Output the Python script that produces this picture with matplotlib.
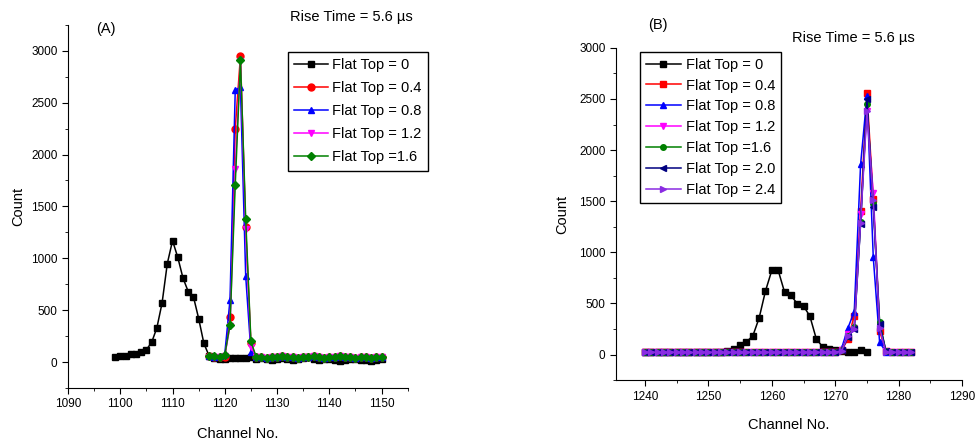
"""Two-panel spectra: count vs channel for several flat-top settings."""
import matplotlib
matplotlib.use("Agg")
import matplotlib.pyplot as plt
from matplotlib.ticker import MultipleLocator

plt.rcParams["font.family"] = ["Liberation Sans", "DejaVu Sans"]

# ---- panel A data ----
a_ch0 = list(range(1099, 1151))
a_ft0 = [50, 55, 60, 75, 80, 95, 120, 190, 330, 570, 950, 1170, 1010, 810, 680, 630,
         420, 180, 60, 35, 30, 30, 35, 35, 40, 40, 45,
         30, 35, 30, 25, 30, 35, 30, 25, 30, 40, 50, 30, 25, 30, 30, 20, 10, 25, 30,
         30, 25, 20, 10, 25, 30]
a_ch = list(range(1117, 1151))
a_base = [50, 45, 40, 45, 50, 55, 45, 50, 40, 45, 50, 55, 45, 40, 50, 45, 55, 50, 45, 40, 50, 45, 40, 50, 45]
a_ft04 = [55, 50, 45, 50, 430, 2250, 2950, 1300, 180] + a_base
a_ft08 = [60, 50, 55, 80, 600, 2620, 2650, 830, 100] + a_base
a_ft12 = [50, 45, 50, 60, 350, 1860, 2900, 1280, 150] + a_base
a_ft16 = [60, 55, 50, 70, 360, 1710, 2910, 1380, 200] + a_base

# ---- panel B data ----
b_ch0 = list(range(1240, 1276))
b_ft0 = [20, 20, 25, 20, 20, 25, 20, 20, 25, 20, 25, 20, 25, 30, 50, 90, 124, 182,
         358, 622, 824, 824, 612, 580, 498, 475, 375, 156, 75, 59, 40, 30, 20, 25, 45, 25]
b_ch = list(range(1240, 1283))
b_base = [20, 25, 20, 20, 25, 20, 25, 20, 20, 25, 20, 25, 20, 20, 25, 20, 25, 20,
          20, 25, 20, 20, 25, 20, 20, 25, 20, 25, 20, 20, 25]
b_tail = [20, 25, 20, 20]
b_ft04 = b_base + [40, 150, 380, 1400, 2560, 1520, 230, 30] + b_tail
b_ft08 = b_base + [60, 260, 420, 1860, 2530, 950, 120, 25] + b_tail
b_ft12 = b_base + [40, 200, 260, 1370, 2380, 1580, 290, 30] + b_tail
b_ft16 = b_base + [40, 180, 270, 1300, 2450, 1480, 320, 30] + b_tail
b_ft20 = b_base + [40, 170, 250, 1280, 2500, 1440, 300, 30] + b_tail
b_ft24 = b_base + [35, 180, 250, 1290, 2380, 1510, 260, 20] + b_tail

fig = plt.figure(figsize=(9.76, 4.43), dpi=100)
ax1 = fig.add_axes([0.0697, 0.124, 0.348, 0.82])
ax2 = fig.add_axes([0.631, 0.142, 0.3547, 0.75])

ms = 5
lw = 1.1

ax1.plot(a_ch0, a_ft0, "-s", color="black", ms=ms, lw=lw, label="Flat Top = 0")
ax1.plot(a_ch, a_ft04, "-o", color="red", ms=ms, lw=lw, label="Flat Top = 0.4")
ax1.plot(a_ch, a_ft08, "-^", color="blue", ms=ms, lw=lw, label="Flat Top = 0.8")
ax1.plot(a_ch, a_ft12, "-v", color="magenta", ms=ms, lw=lw, label="Flat Top = 1.2")
ax1.plot(a_ch, a_ft16, "-D", color="green", ms=ms - 0.5, lw=lw, label="Flat Top =1.6")

ax2.plot(b_ch0, b_ft0, "-s", color="black", ms=ms, lw=lw, label="Flat Top = 0")
ax2.plot(b_ch, b_ft04, "-s", color="red", ms=ms, lw=lw, label="Flat Top = 0.4")
ax2.plot(b_ch, b_ft08, "-^", color="blue", ms=ms, lw=lw, label="Flat Top = 0.8")
ax2.plot(b_ch, b_ft12, "-v", color="magenta", ms=ms, lw=lw, label="Flat Top = 1.2")
ax2.plot(b_ch, b_ft16, "-o", color="green", ms=ms - 1, lw=lw, label="Flat Top =1.6")
ax2.plot(b_ch, b_ft20, "-<", color="#000080", ms=ms, lw=lw, label="Flat Top = 2.0")
ax2.plot(b_ch, b_ft24, "->", color="#8a2be2", ms=ms, lw=lw, label="Flat Top = 2.4")

for ax in (ax1, ax2):
    ax.spines["top"].set_visible(False)
    ax.spines["right"].set_visible(False)
    ax.yaxis.set_major_locator(MultipleLocator(500))
    ax.yaxis.set_minor_locator(MultipleLocator(250))
    ax.xaxis.set_major_locator(MultipleLocator(10))
    ax.xaxis.set_minor_locator(MultipleLocator(5))
    ax.tick_params(which="major", direction="out", length=4, labelsize=8.5)
    ax.tick_params(which="minor", direction="out", length=2)
    ax.set_xlabel("Channel No.", fontsize=10.5)
    ax.set_ylabel("Count", fontsize=10.5)

ax1.set_xlim(1090, 1155)
ax1.set_ylim(-250, 3250)
ax2.set_xlim(1235.4, 1290)
ax2.set_ylim(-250, 3000)

ax1.legend(loc="upper left", bbox_to_anchor=(0.647, 0.926), borderaxespad=0,
           fontsize=10.5, frameon=True, fancybox=False, edgecolor="black",
           framealpha=1, handlelength=2.3, handletextpad=0.3, borderpad=0.45,
           labelspacing=0.62)
ax2.legend(loc="upper left", bbox_to_anchor=(0.069, 0.988), borderaxespad=0,
           fontsize=10.5, frameon=True, fancybox=False, edgecolor="black",
           framealpha=1, handlelength=2.4, handletextpad=0.35, borderpad=0.4,
           labelspacing=0.47)

ax1.yaxis.labelpad = 4
ax1.xaxis.labelpad = 12
ax2.yaxis.labelpad = 7
ax2.xaxis.labelpad = 11

fig.text(0.099, 0.925, "(A)", fontsize=10.5)
fig.text(0.297, 0.953, "Rise Time = 5.6 \u00b5s", fontsize=10.5)
fig.text(0.664, 0.935, "(B)", fontsize=10.5)
fig.text(0.811, 0.905, "Rise Time = 5.6 \u00b5s", fontsize=10.5)

fig.savefig("out.png", dpi=100)
